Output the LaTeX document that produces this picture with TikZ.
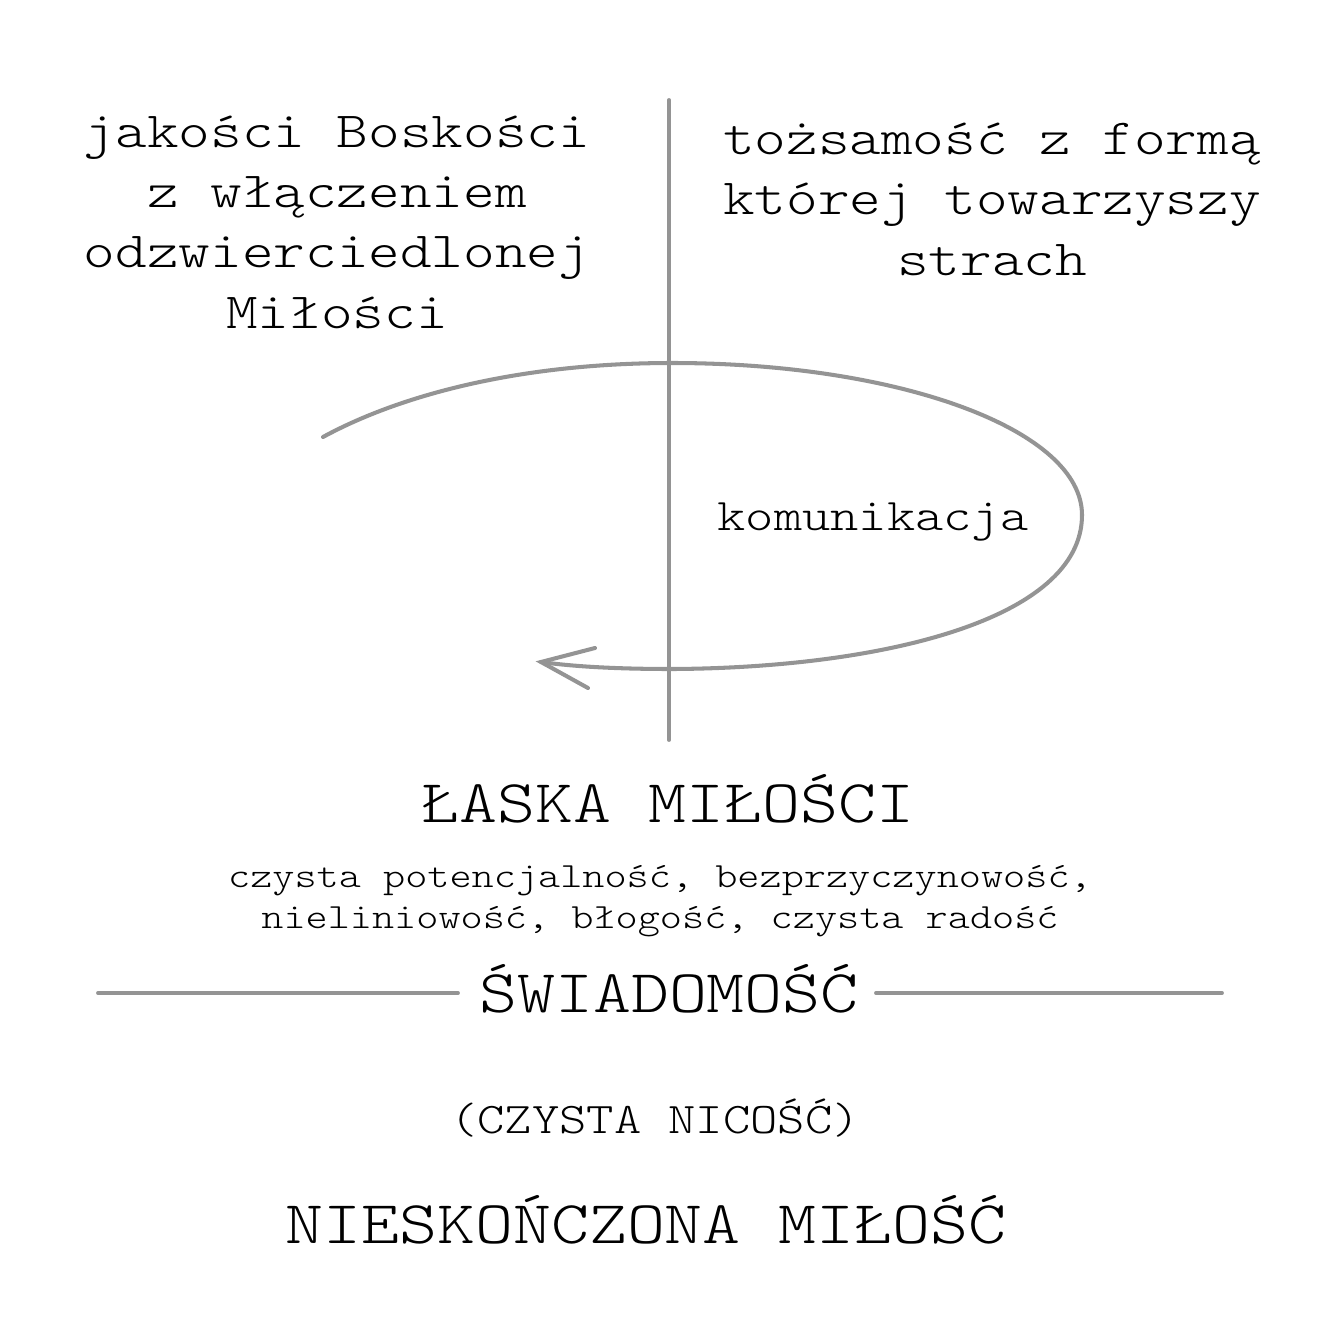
\documentclass[tikz,border=0pt]{standalone}
\usepackage{fontspec}
\setmainfont{lmmonolt10-regular}[Extension=.otf,FakeStretch=1.19]
\usepackage{tikz}
\usetikzlibrary{calc,positioning}
\tikzset{
  txt/.style={align=center,anchor=base,inner sep=0pt,text=black},
  big/.style={txt,font=\fontsize{14.4}{17.07}\selectfont},
  mid/.style={txt,font=\fontsize{12.86}{15}\selectfont},
  head/.style={txt,font=\fontsize{17.28}{20}\selectfont},
  small/.style={txt,font=\fontsize{10.08}{11.4}\selectfont},
  paren/.style={txt,font=\fontsize{12.43}{14}\selectfont},
  pencil/.style={line width=1.1pt,black!42,line cap=round},
  % the loop round the divider; its head is drawn as two open strokes
  loopline/.style={pencil,line width=1.15pt},
}
\newcommand{\Pts}{%
  \coordinate (vtop) at (669,100);   \coordinate (vbot) at (669,740);
  \coordinate (hl1) at (98,993);     \coordinate (hl2) at (458,993);
  \coordinate (hr1) at (876,993);    \coordinate (hr2) at (1222,993);
  \coordinate (l0) at (323,437);     \coordinate (l1) at (672,363);
  \coordinate (l2) at (1082,515);    \coordinate (l3) at (672,669);
  \coordinate (tip) at (541,662);
  \coordinate (bar1) at (595,648);   \coordinate (bar2) at (588,688);
}

\begin{document}
\begin{tikzpicture}[x=0.01cm,y=-0.01cm]
  \useasboundingbox (0,0) rectangle (1324,1324);
  \Pts
  \draw[pencil] (vtop)--(vbot);
  \draw[pencil] (hl1)--(hl2); \draw[pencil] (hr1)--(hr2);
  \draw[loopline] (l0) .. controls (400,395) and (520,363) .. (l1)
    .. controls (900,363) and (1082,430) .. (l2)
    .. controls (1082,620) and (880,668) .. (l3)
    .. controls (610,669) and (570,666) .. (tip);
  \draw[loopline] (bar1)--(tip)--(bar2);
  \node[big] (divine) at (337,328){jakości Boskości\\z włączeniem\\odzwierciedlonej\\Miłości};
  \node[big] (form) at (992,275){tożsamość z formą\\której towarzyszy\\strach};
  \node[mid] (komm) at (873,530){komunikacja};
  \node[head] (grace) at (668,822){ŁASKA MIŁOŚCI};
  \node[small] (qual) at (660,928){czysta potencjalność, bezprzyczynowość,\\nieliniowość, błogość, czysta radość};
  \node[head] (aware) at (669,1012){ŚWIADOMOŚĆ};
  \node[paren] (void) at (655,1133){(CZYSTA NICOŚĆ)};
  \node[head] (love) at (646,1243){NIESKOŃCZONA MIŁOŚĆ};
\end{tikzpicture}
\end{document}
